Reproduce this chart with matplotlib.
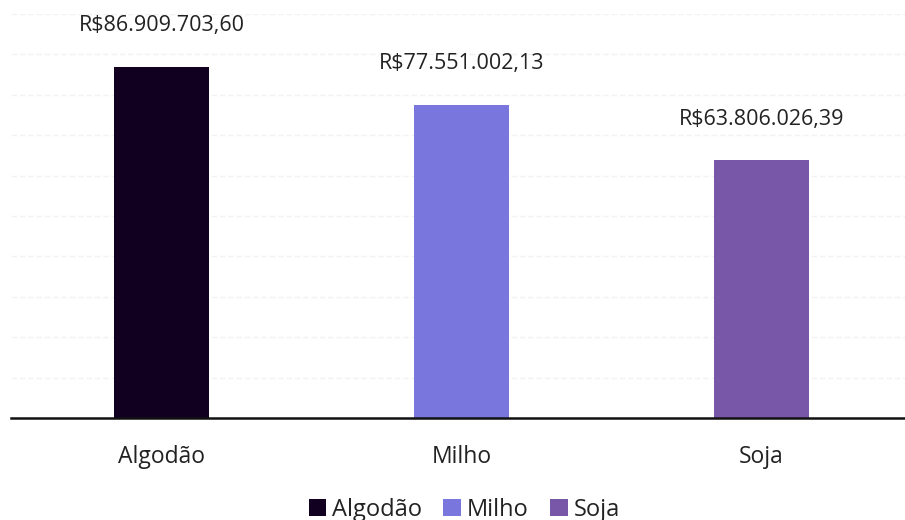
import matplotlib
matplotlib.use("Agg")
import matplotlib.pyplot as plt
from matplotlib.patches import Patch

categories = ["Algodão", "Milho", "Soja"]
values = [86909703.60, 77551002.13, 63806026.39]
labels = ["R$86.909.703,60", "R$77.551.002,13", "R$63.806.026,39"]
colors = ["#120020", "#7977DE", "#7857A8"]

plt.rcParams['font.family'] = ['Open Sans', 'DejaVu Sans']

fig = plt.figure(figsize=(9.05, 5.2), dpi=100)
ax = fig.add_axes([0.0127, 0.196, 0.9945, 0.777])
x = list(range(len(categories)))
ax.bar(x, values, width=0.317, color=colors, zorder=3)
ax.set_xlim(-0.5, 2.5)
ax.set_ylim(0, 100e6)
ax.set_yticks([i * 10e6 for i in range(11)])
ax.yaxis.grid(True, color="#f2f2f2", linewidth=1, linestyle=(0, (4, 2)), zorder=0)
ax.tick_params(axis='y', left=False, labelleft=False)
ax.tick_params(axis='x', bottom=False, labelsize=16.5, pad=16, colors="#222222")
ax.set_xticks(x)
ax.set_xticklabels(categories)
ax.spines[["top", "right", "left"]].set_visible(False)
ax.spines["bottom"].set_linewidth(1.8)
ax.spines["bottom"].set_color("#111111")
ax.spines["bottom"].set_zorder(4)

for xi, v, lab in zip(x, values, labels):
    ax.annotate(lab, (xi, v), xytext=(0, 22), textcoords="offset points",
                ha="center", va="bottom", fontsize=15.5, color="#222222")

handles = [Patch(facecolor=c, label=l) for c, l in zip(colors, categories)]
fig.legend(handles=handles, loc="center", bbox_to_anchor=(0.513, 0.02), ncol=3,
           frameon=False, fontsize=17, handlelength=0.75, handleheight=0.75,
           handletextpad=0.25, columnspacing=0.9, labelcolor="#222222")

fig.savefig("out.png", dpi=100)
